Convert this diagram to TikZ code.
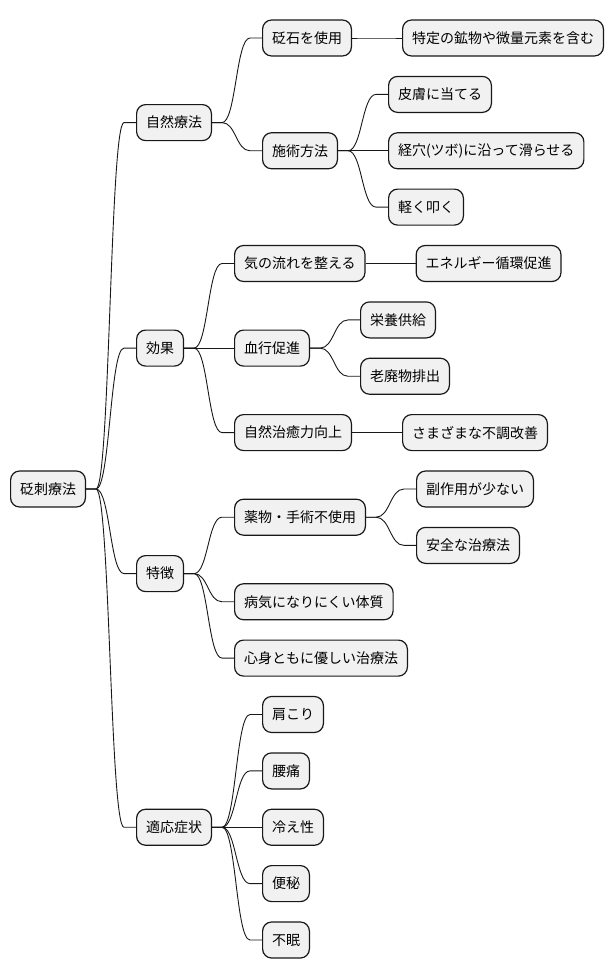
\documentclass[tikz,border=0pt]{standalone}
\usepackage{fontspec}
\setmainfont{Noto Sans CJK JP}
\usepackage{tikz}
\definecolor{boxfill}{HTML}{F1F1F1}
\definecolor{boxline}{HTML}{181818}

% connector from parent to child
\newcommand{\branch}[2]{%
  \draw[edge] (#1.east) -- ++(10,0) .. controls +(14,0) and +(-14,0) .. ([xshift=-12pt]#2.west) -- (#2.west);}

\begin{document}
\begin{tikzpicture}[x=1pt, y=-1pt,
    box/.style={draw=boxline, fill=boxfill, line width=1.2pt, rounded corners=9pt,
      minimum height=36pt, inner xsep=9.4pt, inner ysep=0pt, anchor=west,
      font=\fontsize{14}{16}\selectfont},
    edge/.style={draw=boxline, line width=0.9pt}]
    \useasboundingbox (0,0) rectangle (614,978);

    % root
    \node[box] (root) at (10,489) {砭刺療法};

    % first level
    \node[box] (natural) at ([xshift=50pt]root.east |- 0,122.6) {自然療法};
    \node[box] (effect) at ([xshift=50pt]root.east |- 0,348.1) {効果};
    \node[box] (feature) at ([xshift=50pt]root.east |- 0,573.6) {特徴};
    \node[box] (symptom) at ([xshift=50pt]root.east |- 0,827.25) {適応症状};

    % natural
    \node[box] (stone) at ([xshift=50pt]natural.east |- 0,38) {砭石を使用};
    \node[box] (method) at ([xshift=50pt]natural.east |- 0,150.75) {施術方法};
    \node[box] (mineral) at ([xshift=50pt]stone.east |- 0,38) {特定の鉱物や微量元素を含む};
    \node[box] (skin) at ([xshift=50pt]method.east |- 0,94.4) {皮膚に当てる};
    \node[box] (slide) at ([xshift=50pt]method.east |- 0,150.75) {経穴(ツボ)に沿って滑らせる};
    \node[box] (tap) at ([xshift=50pt]method.east |- 0,207.1) {軽く叩く};

    % effect
    \node[box] (qi) at ([xshift=50pt]effect.east |- 0,263.5) {気の流れを整える};
    \node[box] (blood) at ([xshift=50pt]effect.east |- 0,348.1) {血行促進};
    \node[box] (heal) at ([xshift=50pt]effect.east |- 0,432.6) {自然治癒力向上};
    \node[box] (energy) at ([xshift=50pt]qi.east |- 0,263.5) {エネルギー循環促進};
    \node[box] (food) at ([xshift=50pt]blood.east |- 0,319.9) {栄養供給};
    \node[box] (waste) at ([xshift=50pt]blood.east |- 0,376.25) {老廃物排出};
    \node[box] (various) at ([xshift=50pt]heal.east |- 0,432.6) {さまざまな不調改善};

    % feature
    \node[box] (nodrug) at ([xshift=50pt]feature.east |- 0,517.2) {薬物・手術不使用};
    \node[box] (robust) at ([xshift=50pt]feature.east |- 0,601.75) {病気になりにくい体質};
    \node[box] (gentle) at ([xshift=50pt]feature.east |- 0,658.1) {心身ともに優しい治療法};
    \node[box] (few) at ([xshift=50pt]nodrug.east |- 0,489) {副作用が少ない};
    \node[box] (safe) at ([xshift=50pt]nodrug.east |- 0,545.4) {安全な治療法};

    % symptom
    \node[box] (shoulder) at ([xshift=50pt]symptom.east |- 0,714.5) {肩こり};
    \node[box] (back) at ([xshift=50pt]symptom.east |- 0,770.9) {腰痛};
    \node[box] (cold) at ([xshift=50pt]symptom.east |- 0,827.25) {冷え性};
    \node[box] (constip) at ([xshift=50pt]symptom.east |- 0,883.6) {便秘};
    \node[box] (sleep) at ([xshift=50pt]symptom.east |- 0,940) {不眠};

    % connectors
    \foreach \a/\b in {root/natural, root/effect, root/feature, root/symptom,
        natural/stone, natural/method, stone/mineral,
        method/skin, method/slide, method/tap,
        effect/qi, effect/blood, effect/heal, qi/energy,
        blood/food, blood/waste, heal/various,
        feature/nodrug, feature/robust, feature/gentle, nodrug/few, nodrug/safe,
        symptom/shoulder, symptom/back, symptom/cold, symptom/constip, symptom/sleep}
      {\branch{\a}{\b}}
\end{tikzpicture}
\end{document}
